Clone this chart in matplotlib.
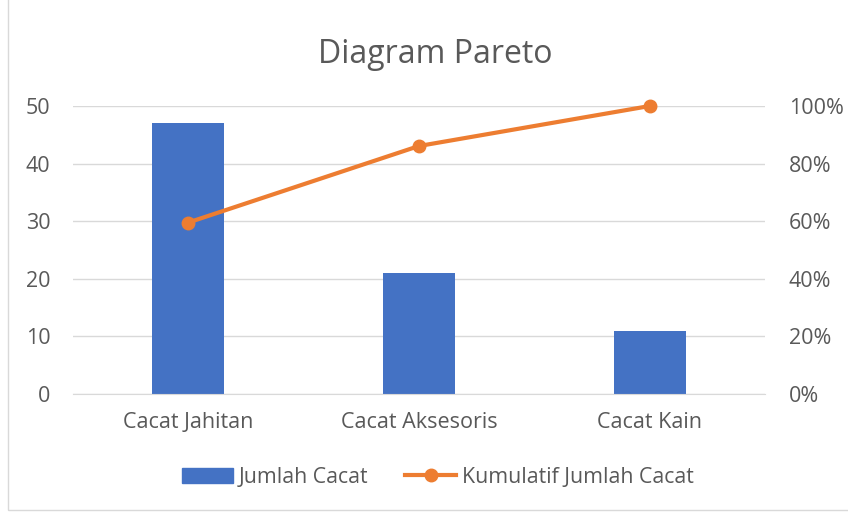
import numpy as np
import matplotlib.pyplot as plt
from matplotlib.patches import Rectangle
from matplotlib.lines import Line2D
from matplotlib.ticker import FuncFormatter

plt.rcParams['font.family'] = ['Open Sans', 'DejaVu Sans']

categories = ['Cacat Jahitan', 'Cacat Aksesoris', 'Cacat Kain']
jumlah = [47, 21, 11]
kumulatif = [0.595, 0.861, 1.0]

blue = '#4472C4'
orange = '#ED7D31'
grey = '#595959'

fig = plt.figure(figsize=(8.48, 5.12), dpi=100)
fig.patches.append(Rectangle((8/848, 2/512), 2, 2, transform=fig.transFigure,
                             fill=False, edgecolor='#D9D9D9', linewidth=1))

ax = fig.add_axes([0.0855, 0.2305, 0.817, 0.5625])
x = np.arange(len(categories))
ax.bar(x, jumlah, width=0.31, color=blue, zorder=2)
ax.set_xlim(-0.5, 2.5)
ax.set_ylim(0, 50)
ax.set_yticks(range(0, 51, 10))
ax.grid(axis='y', color='#D9D9D9', linewidth=1, zorder=0)
ax.set_xticks(x)
ax.set_xticklabels(categories)
for s in ['top', 'left', 'right']:
    ax.spines[s].set_visible(False)
ax.spines['bottom'].set_color('#D9D9D9')
ax.tick_params(length=0, labelsize=15.5, colors=grey, pad=13)
ax.tick_params(axis='y', pad=16)

ax2 = ax.twinx()
ax2.plot(x, kumulatif, color=orange, linewidth=3, marker='o', markersize=9,
         zorder=3, clip_on=False)
ax2.set_ylim(0, 1)
ax2.set_yticks(np.arange(0, 1.01, 0.2))
ax2.yaxis.set_major_formatter(FuncFormatter(lambda v, p: f'{v*100:.0f}%'))
for s in ['top', 'left', 'right', 'bottom']:
    ax2.spines[s].set_visible(False)
ax2.tick_params(length=0, labelsize=15.5, colors=grey, pad=17)

fig.text(0.513, 0.894, 'Diagram Pareto', ha='center', va='center', fontsize=23, color=grey)

handles = [Rectangle((0, 0), 1, 1, color=blue),
           Line2D([0], [0], color=orange, linewidth=3, marker='o', markersize=9)]
fig.legend(handles, ['Jumlah Cacat', 'Kumulatif Jumlah Cacat'], loc='center',
           bbox_to_anchor=(0.5165, 0.068), ncol=2, frameon=False, fontsize=15.3,
           labelcolor=grey, handlelength=2.4, handletextpad=0.28, columnspacing=1.75)

plt.savefig('out.png', format='png')
